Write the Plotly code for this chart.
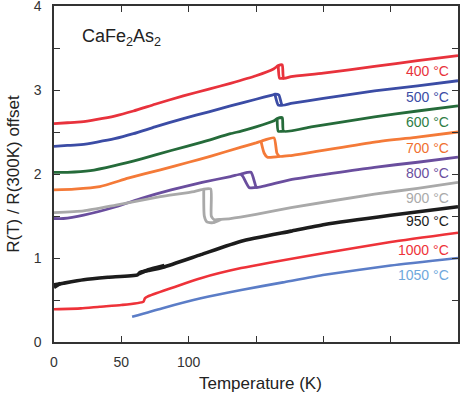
import plotly.graph_objects as go

# annealing temperatures, label text and colours
ANNEAL = ["400 °C", "500 °C", "600 °C", "700 °C", "800 °C", "900 °C", "950 °C", "1000 °C", "1050 °C"]
LINE_COL = ["#E8323C", "#3B4CA5", "#256B3A", "#F47A38", "#6A4E9E", "#A9A9A9", "#1C1C1C", "#EE3239", "#5B7DC7"]
LABEL_COL = ["#E8323C", "#3B4CA5", "#2E7D45", "#F07030", "#6A4E9E", "#AAAAAA", "#1C1C1C", "#EE3239", "#6FA8DC"]
LABEL_Y = [3.23, 2.92, 2.62, 2.31, 2.01, 1.72, 1.44, 1.10, 0.80]

# R(T)/R(300K) + offset; None splits off the second hysteresis branch
T400 = [0, 10, 20, 32, 45, 59, 75, 96, 115, 131, 150, 163, 166.5, 169.5, 170.5, 176, 200, 238, 270, 300,
        None, 166.5, 167.5, 170.5]
R400 = [2.60, 2.61, 2.62, 2.65, 2.69, 2.75, 2.83, 2.93, 3.01, 3.08, 3.17, 3.25, 3.29, 3.30, 3.14, 3.16, 3.20, 3.28, 3.35, 3.41,
        None, 3.29, 3.14, 3.14]
T500 = [0, 10, 20, 32, 45, 59, 75, 96, 115, 131, 150, 162, 164, 167, 169.5, 176, 200, 238, 270, 300,
        None, 164, 166.5, 169.5]
R500 = [2.33, 2.34, 2.35, 2.38, 2.42, 2.48, 2.56, 2.66, 2.74, 2.81, 2.89, 2.94, 2.95, 2.94, 2.82, 2.84, 2.90, 2.99, 3.05, 3.11,
        None, 2.95, 2.82, 2.82]
T600 = [0, 10, 27, 45, 65, 87, 110, 131, 139, 150, 163, 165.7, 169.5, 170.5, 191, 238, 270, 300,
        None, 165.7, 166.5, 170.5]
R600 = [2.02, 2.02, 2.04, 2.10, 2.18, 2.28, 2.38, 2.48, 2.51, 2.56, 2.63, 2.66, 2.67, 2.51, 2.56, 2.68, 2.75, 2.81,
        None, 2.66, 2.51, 2.51]
T700 = [0, 15, 34, 55, 79, 100, 116, 139, 150, 153.7, 163.4, 165.5, 167.5, 176, 238, 270, 300,
        None, 153.7, 156, 158.5, 167.5]
R700 = [1.81, 1.82, 1.85, 1.95, 2.05, 2.14, 2.21, 2.32, 2.37, 2.39, 2.43, 2.25, 2.21, 2.22, 2.38, 2.44, 2.50,
        None, 2.39, 2.25, 2.20, 2.21]
T800 = [0, 7, 22, 46, 65, 87, 110, 131, 138.8, 146.3, 150, 151, 175, 238, 270, 300,
        None, 138.8, 140.3, 144.8, 151]
R800 = [1.47, 1.47, 1.51, 1.61, 1.71, 1.81, 1.90, 1.97, 2.00, 2.02, 1.85, 1.84, 1.93, 2.08, 2.14, 2.20,
        None, 2.00, 1.97, 1.84, 1.84]
T900 = [0, 22, 46, 79, 104, 111.2, 116.4, 116.8, 119, 124, 131, 150, 176, 238, 270, 300,
        None, 111.2, 111.6, 113.5, 118, 124]
R900 = [1.54, 1.56, 1.63, 1.73, 1.79, 1.82, 1.82, 1.50, 1.455, 1.46, 1.47, 1.52, 1.60, 1.76, 1.83, 1.90,
        None, 1.82, 1.50, 1.43, 1.42, 1.46]
T950 = [0, 7, 22, 40, 62, 64, 70, 81, 109, 139, 176, 201, 250, 300,
        None, 0, 2, 5, None, 63, 70, 77, 82]
R950 = [0.68, 0.70, 0.74, 0.77, 0.80, 0.83, 0.85, 0.89, 1.04, 1.20, 1.32, 1.40, 1.51, 1.61,
        None, 0.65, 0.67, 0.70, None, 0.81, 0.86, 0.89, 0.91]
T1000 = [0, 20, 34, 50, 66.4, 67.5, 69.4, 85, 109, 139, 201, 250, 300]
R1000 = [0.39, 0.40, 0.42, 0.44, 0.48, 0.52, 0.54, 0.63, 0.76, 0.88, 1.06, 1.19, 1.30]
T1050 = [58, 80, 109, 139, 170, 201, 250, 300]
R1050 = [0.30, 0.40, 0.52, 0.62, 0.71, 0.80, 0.91, 1.00]

CURVES_T = [T400, T500, T600, T700, T800, T900, T950, T1000, T1050]
CURVES_R = [R400, R500, R600, R700, R800, R900, R950, R1000, R1050]
WIDTHS = [2.8, 2.8, 2.8, 2.8, 2.8, 2.8, 3.6, 2.6, 2.6]

X_RANGE = [0, 300]
Y_RANGE = [0, 4]
X_LABELLED = [0, 50, 100]
Y_LABELLED = [0, 1, 2, 3, 4]

FONT = "Liberation Sans, Arial, Helvetica, sans-serif"
AXC = "#333333"

fig = go.Figure()
for t, r, c, w in zip(CURVES_T, CURVES_R, LINE_COL, WIDTHS):
    fig.add_trace(go.Scatter(x=t, y=r, mode="lines", line=dict(color=c, width=w, shape="spline", smoothing=0.5),
                             connectgaps=False, showlegend=False, hoverinfo="skip"))

for name, yv, c in zip(ANNEAL, LABEL_Y, LABEL_COL):
    fig.add_annotation(x=295, y=yv, text=name, showarrow=False, xanchor="right", yanchor="middle",
                       font=dict(family=FONT, size=14, color=c))

fig.add_annotation(x=19, y=3.62, text="CaFe<sub>2</sub>As<sub>2</sub>", showarrow=False,
                   xanchor="left", yanchor="middle", font=dict(family=FONT, size=18, color="#222"))

# axis titles as paper annotations so the plot box stays put
fig.add_annotation(xref="paper", yref="paper", x=0.51, y=-0.123, text="Temperature (K)", showarrow=False,
                   xanchor="center", yanchor="middle", font=dict(family=FONT, size=17, color="#222"))
fig.add_annotation(xref="paper", yref="paper", x=-0.102, y=0.5, text="R(T) / R(300K) offset", showarrow=False,
                   textangle=-90, xanchor="center", yanchor="middle", font=dict(family=FONT, size=17, color="#222"))

axis = dict(showline=True, linecolor=AXC, linewidth=1.5, ticks="inside",
            ticklen=6, tickwidth=1.2, tickcolor=AXC, showgrid=False, zeroline=False, automargin=False,
            ticklabeloverflow="allow", tickfont=dict(family=FONT, size=14, color="#333"))
minor = dict(ticks="inside", ticklen=6, tickwidth=1.2, tickcolor=AXC, showgrid=False)

fig.update_layout(
    width=471, height=396, paper_bgcolor="white", plot_bgcolor="white",
    margin=dict(l=54, r=13, t=6, b=54),
    font=dict(family=FONT, color="#222"),
    xaxis=dict(axis, range=X_RANGE, tickmode="array", tickvals=X_LABELLED, ticklabelstandoff=6,
               minor=dict(minor, dtick=50)),
    yaxis=dict(axis, range=Y_RANGE, tickmode="array", tickvals=Y_LABELLED, ticklabelstandoff=8,
               minor=dict(minor, dtick=0.5)),
    # empty twin axes on top and right give the closed frame with inward ticks
    xaxis2=dict(axis, range=X_RANGE, overlaying="x", side="top", anchor="y", showticklabels=False,
                tickvals=X_LABELLED, minor=dict(minor, dtick=50)),
    yaxis2=dict(axis, range=Y_RANGE, overlaying="y", side="right", anchor="x", showticklabels=False,
                tickvals=Y_LABELLED, minor=dict(minor, dtick=0.5)),
)
fig.add_trace(go.Scatter(x=[None], y=[None], xaxis="x2", yaxis="y2", mode="lines",
                         showlegend=False, hoverinfo="skip"))

# drop the default page margin so the figure sits at the window corner
fig.write_html("out.html", config={"displayModeBar": False},
               post_script="document.body.style.margin='0';")
